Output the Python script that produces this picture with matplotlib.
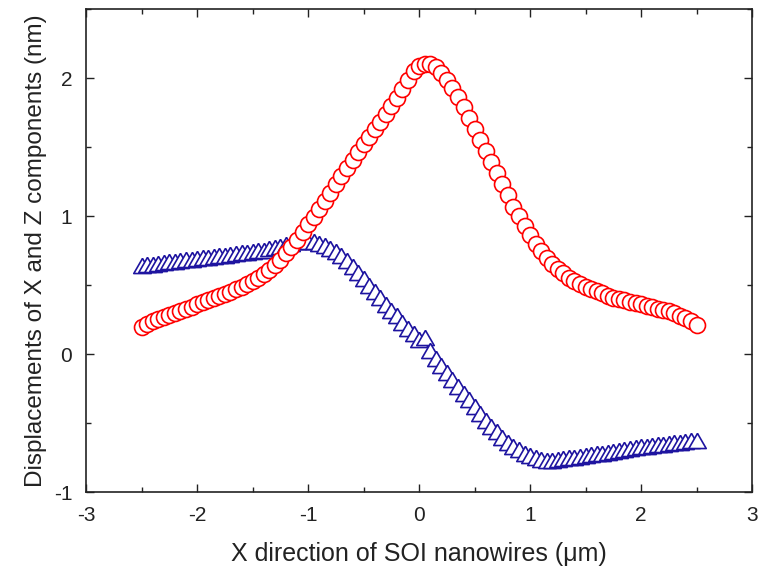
import numpy as np
import matplotlib
matplotlib.use("Agg")
import matplotlib.pyplot as plt
from matplotlib.ticker import MultipleLocator

plt.rcParams['font.family'] = ['Liberation Sans', 'DejaVu Sans']
plt.rcParams['axes.unicode_minus'] = False

# position along the nanowire (um), 0.05 step
x_pos = [-2.50, -2.45, -2.40, -2.35, -2.30, -2.25, -2.20, -2.15, -2.10, -2.05,
         -2.00, -1.95, -1.90, -1.85, -1.80, -1.75, -1.70, -1.65, -1.60, -1.55,
         -1.50, -1.45, -1.40, -1.35, -1.30, -1.25, -1.20, -1.15, -1.10, -1.05,
         -1.00, -0.95, -0.90, -0.85, -0.80, -0.75, -0.70, -0.65, -0.60, -0.55,
         -0.50, -0.45, -0.40, -0.35, -0.30, -0.25, -0.20, -0.15, -0.10, -0.05,
         0.00, 0.05, 0.10, 0.15, 0.20, 0.25, 0.30, 0.35, 0.40, 0.45,
         0.50, 0.55, 0.60, 0.65, 0.70, 0.75, 0.80, 0.85, 0.90, 0.95,
         1.00, 1.05, 1.10, 1.15, 1.20, 1.25, 1.30, 1.35, 1.40, 1.45,
         1.50, 1.55, 1.60, 1.65, 1.70, 1.75, 1.80, 1.85, 1.90, 1.95,
         2.00, 2.05, 2.10, 2.15, 2.20, 2.25, 2.30, 2.35, 2.40, 2.45,
         2.50]

# red circles
disp_a = [0.20, 0.22, 0.24, 0.255, 0.27, 0.285, 0.30, 0.315, 0.33, 0.345,
          0.36, 0.375, 0.39, 0.405, 0.42, 0.435, 0.45, 0.47, 0.49, 0.51,
          0.53, 0.555, 0.58, 0.61, 0.645, 0.685, 0.73, 0.78, 0.83, 0.885,
          0.94, 0.995, 1.05, 1.11, 1.17, 1.23, 1.29, 1.35, 1.41, 1.465,
          1.52, 1.575, 1.63, 1.685, 1.74, 1.795, 1.855, 1.92, 1.99, 2.05,
          2.09, 2.105, 2.10, 2.08, 2.04, 1.99, 1.93, 1.86, 1.79, 1.71,
          1.63, 1.55, 1.47, 1.39, 1.31, 1.23, 1.15, 1.07, 1.00, 0.93,
          0.86, 0.80, 0.745, 0.70, 0.655, 0.62, 0.585, 0.555, 0.53, 0.51,
          0.49, 0.47, 0.455, 0.44, 0.425, 0.41, 0.40, 0.39, 0.38, 0.37,
          0.36, 0.35, 0.34, 0.33, 0.32, 0.31, 0.295, 0.28, 0.26, 0.24,
          0.21]

# blue triangles
disp_b = [0.625, 0.63, 0.635, 0.64, 0.645, 0.65, 0.655, 0.66, 0.665, 0.67,
          0.675, 0.68, 0.685, 0.69, 0.695, 0.70, 0.705, 0.71, 0.715, 0.72,
          0.725, 0.73, 0.735, 0.745, 0.755, 0.765, 0.775, 0.785, 0.795, 0.80,
          0.80, 0.795, 0.785, 0.77, 0.75, 0.725, 0.695, 0.66, 0.62, 0.575,
          0.53, 0.48, 0.435, 0.39, 0.345, 0.30, 0.26, 0.215, 0.17, 0.13,
          0.09, 0.10, 0.01, -0.05, -0.10, -0.15, -0.20, -0.25, -0.30, -0.35,
          -0.40, -0.45, -0.50, -0.54, -0.58, -0.62, -0.655, -0.685, -0.71, -0.735,
          -0.755, -0.77, -0.78, -0.785, -0.785, -0.78, -0.775, -0.77, -0.765, -0.76,
          -0.755, -0.745, -0.74, -0.735, -0.73, -0.72, -0.715, -0.71, -0.70, -0.695,
          -0.69, -0.685, -0.68, -0.675, -0.67, -0.665, -0.66, -0.655, -0.65, -0.645,
          -0.64]

# equilateral triangle marker
tri = [(0.0, 0.577), (-0.5, -0.289), (0.5, -0.289), (0.0, 0.577)]

fig = plt.figure(figsize=(7.69, 5.71), dpi=100)
ax = fig.add_axes([0.112, 0.138, 0.866, 0.846])

ax.plot(x_pos, disp_b, linestyle='none', marker=tri, markersize=14.5,
        markerfacecolor='white', markeredgecolor='#1e14a0', markeredgewidth=1.2)
ax.plot(x_pos, disp_a, linestyle='none', marker='o', markersize=11.5,
        markerfacecolor='white', markeredgecolor='#ff0000', markeredgewidth=1.2)

ax.set_xlim(-3, 3)
ax.set_ylim(-1, 2.5)
ax.xaxis.set_major_locator(MultipleLocator(1))
ax.xaxis.set_minor_locator(MultipleLocator(0.5))
ax.yaxis.set_major_locator(MultipleLocator(1))
ax.yaxis.set_minor_locator(MultipleLocator(0.5))
ax.tick_params(which='both', direction='in', top=True, right=True,
               width=1.0, labelsize=15, colors='#222222')
ax.tick_params(which='major', length=6, pad=10)
ax.tick_params(which='minor', length=3.5)
for s in ax.spines.values():
    s.set_linewidth(1.2)
    s.set_color('#222222')

ax.set_xlabel('X direction of SOI nanowires (\u03bcm)', fontsize=18,
              color='#222222', labelpad=12)
ax.set_ylabel('Displacements of X and Z components (nm)', fontsize=17.5,
              color='#222222', labelpad=5)

fig.savefig('out.png', dpi=100)
